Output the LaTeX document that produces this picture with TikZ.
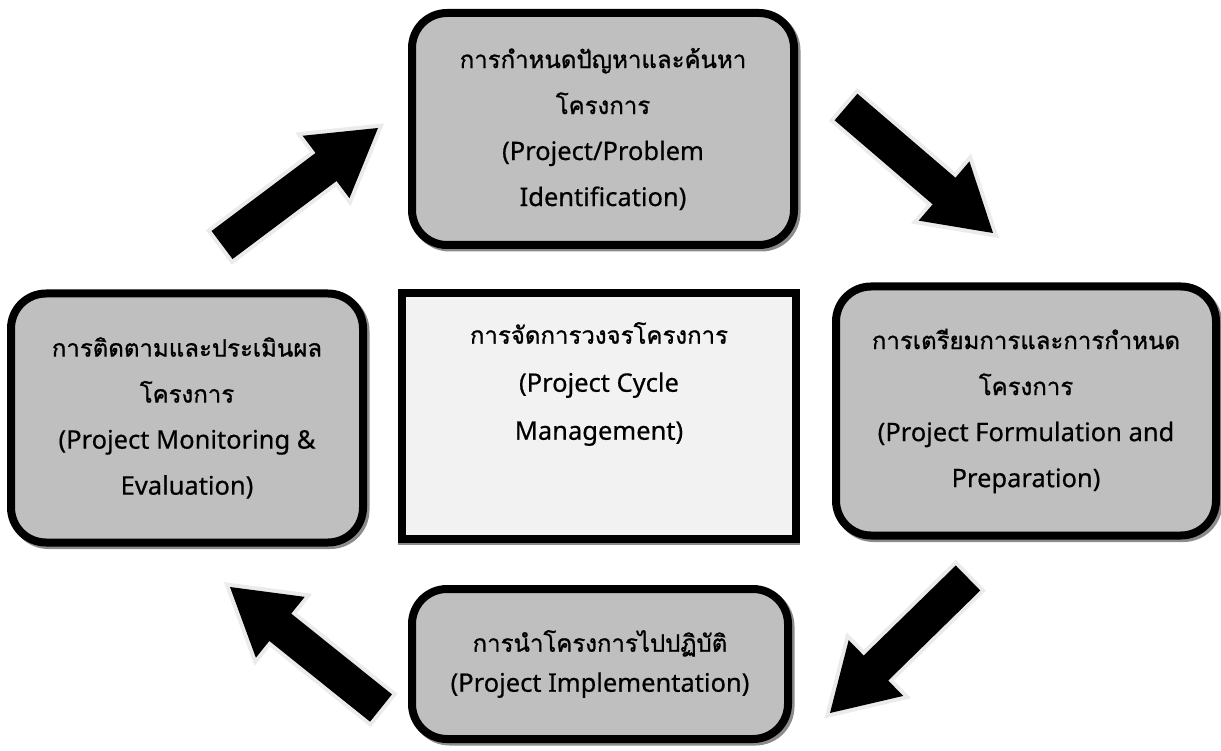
\documentclass[tikz,border=0pt]{standalone}
\usepackage{fontspec}
\setmainfont[FakeBold=0.5]{Noto Sans}
\newfontfamily\thaifont[Script=Thai, FakeBold=1]{Loma}
\usetikzlibrary{calc}
\definecolor{boxgray}{HTML}{BFBFBF}
\definecolor{hubgray}{HTML}{F2F2F2}
\definecolor{edgegray}{HTML}{EBEBEB}
\definecolor{shadowgray}{HTML}{8C8C8C}

\newcommand{\thailine}[1]{{\thaifont\fontsize{24}{46}\selectfont #1}}

% block arrow from tail to tip
\newcommand{\blockarrow}[2]{%
  \coordinate (h) at ($(#1)!0.667!(#2)$);
  \path[cyclearrow] ($(#1)!17.5pt!90:(#2)$) -- ($(h)!17.5pt!90:(#2)$) -- ($(h)!39pt!90:(#2)$) -- (#2)
    -- ($(h)!39pt!-90:(#2)$) -- ($(h)!17.5pt!-90:(#2)$) -- ($(#1)!17.5pt!-90:(#2)$) -- cycle;
}

\begin{document}
\begin{tikzpicture}[x=1pt, y=-1pt]
\tikzstyle{stage}=[rectangle, rounded corners=35pt, line width=8pt, draw=black, fill=boxgray, align=center,
  font=\fontsize{25.5}{46}\selectfont, inner sep=0pt,
  preaction={draw=shadowgray, line width=8pt, transform canvas={shift={(2.5pt,-2.5pt)}}}]
\tikzstyle{hub}=[rectangle, line width=8pt, draw=black, fill=hubgray, inner sep=0pt,
  preaction={draw=shadowgray, line width=8pt, transform canvas={shift={(0pt,-2.5pt)}}}]
\tikzstyle{hubtext}=[align=center, font=\fontsize{25.5}{48}\selectfont]
\tikzstyle{cyclearrow}=[preaction={draw=edgegray, line width=8pt}, fill=black]

\useasboundingbox (0,0) rectangle (1221,751);

\node[stage, minimum width=382pt, minimum height=232pt] at (603,129) (ident)
  {\thailine{การกำหนดปัญหาและค้นหา}\\\thailine{โครงการ}\\(Project/Problem\\Identification)};
\node[stage, minimum width=380pt, minimum height=249pt] at (1026,411) (formul)
  {\thailine{การเตรียมการและการกำหนด}\\\thailine{โครงการ}\\(Project Formulation and\\Preparation)};
\node[stage, minimum width=376pt, minimum height=150pt, font=\fontsize{25.5}{40}\selectfont] at (600,664) (impl)
  {\thailine{การนำโครงการไปปฏิบัติ}\\(Project Implementation)};
\node[stage, minimum width=352pt, minimum height=249pt] at (187,418) (monitor)
  {\thailine{การติดตามและประเมินผล}\\\thailine{โครงการ}\\(Project Monitoring \&\\Evaluation)};

\node[hub, minimum width=394pt, minimum height=245pt] at (599,416) (pcm) {};
\node[hubtext] at (599,384) (pcmtext)
  {\thailine{การจัดการวงจรโครงการ}\\(Project Cycle\\Management)};

\coordinate (a1tail) at (222,245);
\coordinate (a1tip) at (378,128);
\coordinate (a2tail) at (846,107);
\coordinate (a2tip) at (993,233);
\coordinate (a3tail) at (968,578);
\coordinate (a3tip) at (830,713);
\coordinate (a4tail) at (381,708);
\coordinate (a4tip) at (230,587);
\blockarrow{a1tail}{a1tip}
\blockarrow{a2tail}{a2tip}
\blockarrow{a3tail}{a3tip}
\blockarrow{a4tail}{a4tip}
\end{tikzpicture}
\end{document}
